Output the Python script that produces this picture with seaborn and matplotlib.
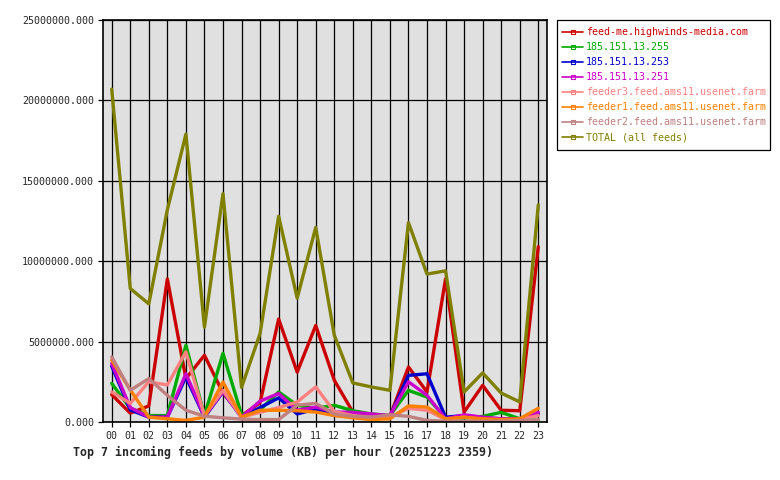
import pandas as pd
import numpy as np
import matplotlib
matplotlib.use('Agg')
import matplotlib.pyplot as plt
from matplotlib.lines import Line2D
from matplotlib.patches import Rectangle
import seaborn as sns

# hours of the day (x axis)
hours = ["%02d" % h for h in range(24)]

# values in millions of KB
feed_me = [1.7, 0.55, 1.0, 8.9, 2.7, 4.15, 1.8, 0.4, 1.2, 6.4, 3.1, 6.0,
           2.6, 0.62, 0.35, 0.35, 3.42, 1.87, 8.9, 0.62, 2.28, 0.73, 0.7, 10.9]
ip_255 = [2.4, 0.85, 0.4, 0.4, 4.77, 0.4, 4.27, 0.45, 0.75, 1.87, 1.04, 0.85,
          1.04, 0.7, 0.5, 0.4, 1.97, 1.55, 0.25, 0.25, 0.35, 0.6, 0.2, 0.1]
ip_253 = [3.47, 0.75, 0.3, 0.3, 2.8, 0.3, 1.87, 0.3, 0.9, 1.5, 0.5, 0.8,
          0.4, 0.45, 0.4, 0.35, 2.9, 3.0, 0.3, 0.4, 0.25, 0.2, 0.2, 0.5]
ip_251 = [3.64, 0.9, 0.3, 0.3, 3.0, 0.35, 1.9, 0.3, 1.3, 1.77, 0.73, 0.93,
          0.62, 0.6, 0.5, 0.4, 2.5, 1.66, 0.2, 0.45, 0.3, 0.2, 0.2, 0.6]
feeder3 = [1.87, 1.16, 2.5, 2.3, 4.36, 0.4, 1.97, 0.3, 0.6, 0.9, 1.24, 2.18,
           0.65, 0.4, 0.3, 0.3, 0.85, 0.73, 0.15, 0.3, 0.15, 0.15, 0.15, 0.4]
feeder1 = [3.84, 2.0, 0.3, 0.2, 0.1, 0.3, 2.49, 0.3, 0.73, 0.73, 0.7, 0.62,
           0.4, 0.26, 0.15, 0.2, 1.0, 0.93, 0.2, 0.3, 0.2, 0.15, 0.2, 0.85]
feeder2 = [4.05, 1.97, 2.7, 1.66, 0.73, 0.36, 0.26, 0.18, 0.15, 0.15, 1.04, 1.16,
           0.5, 0.35, 0.3, 0.45, 0.35, 0.1, 0.05, 0.05, 0.05, 0.05, 0.1, 0.15]
total = [20.7, 8.3, 7.35, 13.2, 17.9, 5.9, 14.2, 2.15, 5.5, 12.8, 7.7, 12.1,
         5.4, 2.43, 2.18, 1.97, 12.4, 9.2, 9.4, 1.87, 3.05, 1.8, 1.25, 13.5]

feed_names = ["feed-me.highwinds-media.com", "185.151.13.255", "185.151.13.253",
              "185.151.13.251", "feeder3.feed.ams11.usenet.farm",
              "feeder1.feed.ams11.usenet.farm", "feeder2.feed.ams11.usenet.farm",
              "TOTAL (all feeds)"]
feed_colors = ["#cc0000", "#00aa00", "#0000cc", "#cc00cc",
               "#ff8080", "#ff8000", "#c08080", "#808000"]

y_ticks = [0, 5e6, 10e6, 15e6, 20e6, 25e6]
y_labels = ["%.3f" % v for v in y_ticks]

title = "Top 7 incoming feeds by volume (KB) per hour (20251223 2359)"


def main():
    series = [feed_me, ip_255, ip_253, ip_251, feeder3, feeder1, feeder2, total]
    frames = []
    for name, vals in zip(feed_names, series):
        frames.append(pd.DataFrame({"hour": range(24), "kb": np.array(vals) * 1e6,
                                    "feed": name}))
    df = pd.concat(frames, ignore_index=True)

    sns.set_style("white")
    plt.rcParams["font.family"] = ["DejaVu Sans Mono"]

    W, H = 780, 480
    fig = plt.figure(figsize=(7.8, 4.8), dpi=100)
    ax = fig.add_axes([103 / W, 1 - 422 / H, 444 / W, 402 / H])
    ax.set_facecolor("#e0e0e0")

    sns.lineplot(data=df, x="hour", y="kb", hue="feed", hue_order=feed_names,
                 palette=feed_colors, linewidth=2.4, legend=False, ax=ax,
                 sort=False)

    ax.set_xlim(-0.47, 23.47)
    ax.set_ylim(0, 25e6)
    ax.set_xticks(range(24))
    ax.set_xticklabels(hours)
    ax.set_yticks(y_ticks)
    ax.set_yticklabels(y_labels)
    ax.grid(True, color="black", linewidth=0.9)
    ax.set_axisbelow(True)
    ax.tick_params(axis="both", direction="out", length=3.3, width=0.9,
                   color="black", labelsize=7.2, pad=3)
    ax.tick_params(axis="y", left=True)
    ax.tick_params(axis="x", bottom=True)
    for s in ax.spines.values():
        s.set_color("black")
        s.set_linewidth(1.2)
    ax.set_xlabel("")
    ax.set_ylabel("")

    # legend box drawn as its own frame, legend entries placed inside it
    fig.patches.append(Rectangle((557 / W, 1 - 150 / H), 213 / W, 130 / H,
                                 transform=fig.transFigure, facecolor="white",
                                 edgecolor="black", linewidth=0.9, zorder=1))
    handles = [Line2D([0], [0], color=c, linewidth=1.2, marker="s", markersize=2.5,
                      markerfacecolor="none", markeredgewidth=0.8)
               for c in feed_colors]
    leg = fig.legend(handles, feed_names, loc="upper left",
                     bbox_to_anchor=(562 / W, 1 - 27 / H),
                     fontsize=7.2, frameon=False,
                     handlelength=2.1, handletextpad=0.3, borderpad=0,
                     labelspacing=0.5, borderaxespad=0)
    leg.set_zorder(2)
    for txt, c in zip(leg.get_texts(), feed_colors):
        txt.set_color(c)

    fig.text(73 / W, 1 - 452 / H, title, fontsize=8.4, fontweight="bold",
             va="center", ha="left")

    fig.savefig("out.png", dpi=100)
    plt.close(fig)


if __name__ == "__main__":
    main()
